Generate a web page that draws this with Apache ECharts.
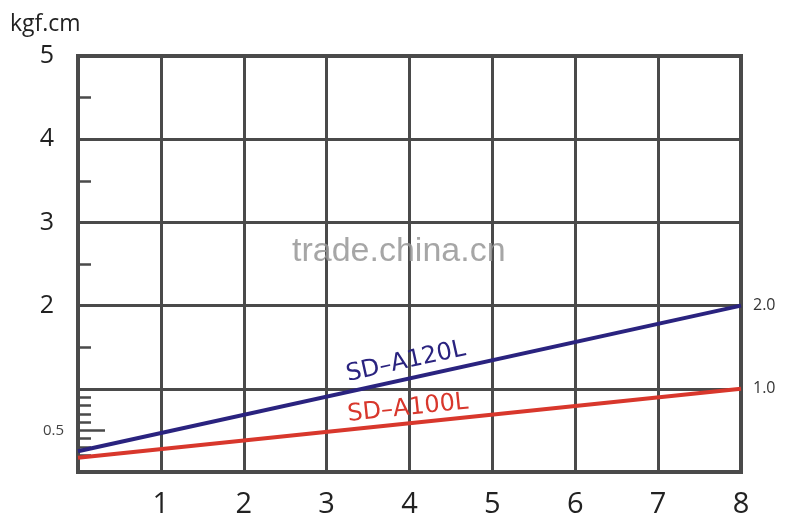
<!DOCTYPE html>
<html>
<head>
<meta charset="utf-8">
<script src="https://cdn.jsdelivr.net/npm/echarts@6/dist/echarts.min.js"></script>
<style>
html,body{margin:0;padding:0;background:#fff;}
#chart{width:800px;height:530px;}
</style>
</head>
<body>
<div id="chart"></div>
<script>
// ---- data ----
const xTicks = [1, 2, 3, 4, 5, 6, 7, 8];
const yTicks = [2, 3, 4, 5];
const minorTicks = [4.5, 3.5, 2.5, 1.5, 0.9, 0.8, 0.7, 0.6, 0.4, 0.3, 0.2];
const halfTick = [0.5];
const seriesNames = ['SD–A120L', 'SD–A100L'];
const speedX = [0, 8];
const a120Values = [0.25, 2.0];
const a100Values = [0.17, 1.0];
const unitLabel = 'kgf.cm';
const watermark = 'trade.china.cn';

const gridColor = '#4a4a4a';
const font = 'Open Sans';

function pairs(xs, ys) { return xs.map((x, i) => [x, ys[i]]); }

function makeSeries(name, values, color, dist) {
  const d = pairs(speedX, values);
  return {
    name: name,
    type: 'line',
    data: d,
    symbol: 'none',
    lineStyle: { color: color, width: 4 },
    z: 5,
    endLabel: {
      show: true,
      distance: 12,
      fontFamily: font,
      fontSize: 16,
      color: '#333',
      formatter: p => p.value[1].toFixed(1)
    },
    markLine: {
      silent: true,
      symbol: ['none', 'none'],
      animation: false,
      lineStyle: { color: 'rgba(0,0,0,0)', width: 1, type: 'solid' },
      label: {
        show: true,
        position: 'insideMiddleTop',
        distance: dist,
        formatter: name,
        fontFamily: 'DejaVu Sans',
        fontSize: 24,
        color: color
      },
      data: [[{ coord: d[0] }, { coord: d[d.length - 1] }]]
    }
  };
}

const chart = echarts.init(document.getElementById('chart'), null, { renderer: 'canvas' });
chart.setOption({
  animation: false,
  backgroundColor: '#ffffff',
  title: {
    text: unitLabel,
    left: 5, top: 8,
    textStyle: { fontFamily: font, fontSize: 23, fontWeight: 'normal', color: '#222' }
  },
  grid: {
    left: 78, right: 59, top: 56, bottom: 58,
    show: true, borderColor: gridColor, borderWidth: 4, backgroundColor: 'transparent'
  },
  xAxis: {
    type: 'value', min: 0, max: 8, interval: 1,
    axisLine: { show: false }, axisTick: { show: false },
    axisLabel: {
      fontFamily: font, fontSize: 29, color: '#222', margin: 18,
      formatter: v => (xTicks.indexOf(v) >= 0 ? String(v) : '')
    },
    splitLine: { show: true, lineStyle: { color: gridColor, width: 3 } }
  },
  yAxis: [
    {
      type: 'value', min: 0, max: 5, interval: 1,
      axisLine: { show: false }, axisTick: { show: false },
      axisLabel: {
        fontFamily: font, fontSize: 25, color: '#222', margin: 24,
        formatter: v => (yTicks.indexOf(v) >= 0 ? String(v) : '')
      },
      splitLine: { show: true, lineStyle: { color: gridColor, width: 3 } }
    },
    {
      type: 'value', min: 0, max: 5, position: 'left',
      axisLine: { show: false },
      axisTick: { show: true, inside: true, length: 13, customValues: minorTicks,
        lineStyle: { color: gridColor, width: 2.5 } },
      axisLabel: { show: false },
      splitLine: { show: false }
    },
    {
      type: 'value', min: 0, max: 5, position: 'left',
      axisLine: { show: false },
      axisTick: { show: true, inside: true, length: 27, customValues: halfTick,
        lineStyle: { color: gridColor, width: 2.5 } },
      axisLabel: { show: true, customValues: halfTick, margin: 14,
        fontFamily: font, fontSize: 15, color: '#444' },
      splitLine: { show: false }
    }
  ],
  graphic: [
    {
      type: 'text', left: 292, top: 235, silent: true, z: 100,
      style: { text: watermark, fontFamily: 'Liberation Sans', fontSize: 34, fill: 'rgba(150,150,150,0.85)' }
    }
  ],
  series: [
    makeSeries(seriesNames[0], a120Values, '#2a237f', 5),
    makeSeries(seriesNames[1], a100Values, '#d8372c', 3)
  ]
});
</script>
</body>
</html>
